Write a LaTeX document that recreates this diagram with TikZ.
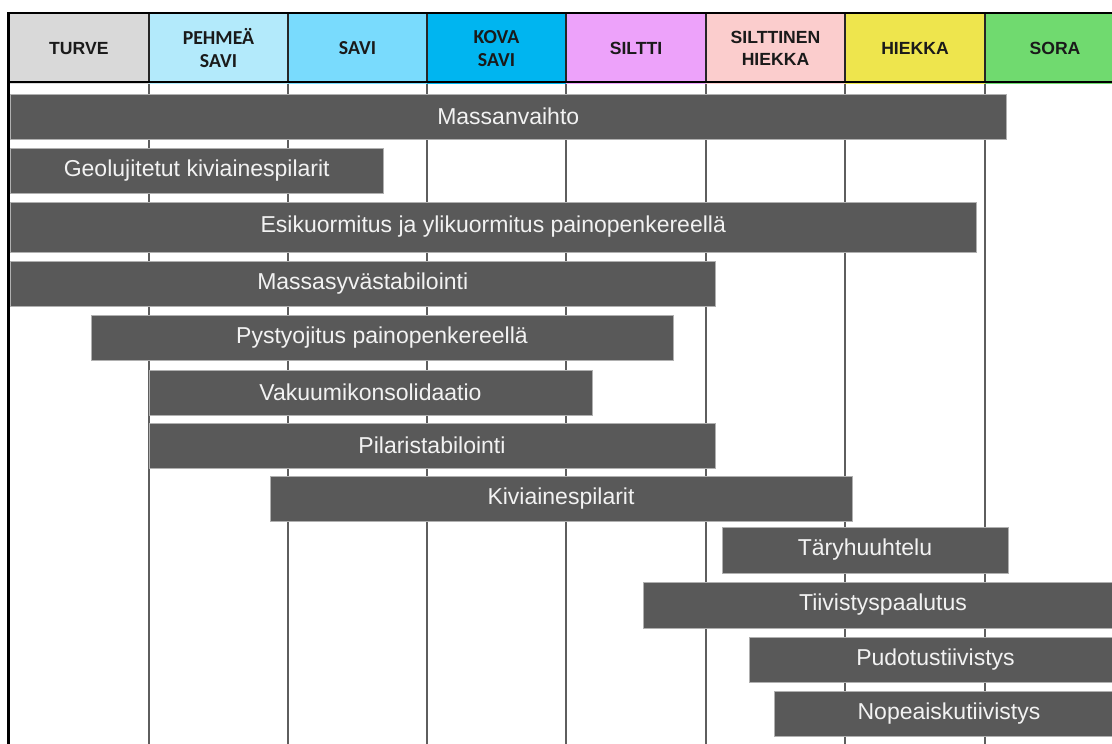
\documentclass[tikz,border=0pt]{standalone}
\usepackage{fontspec}
\setmainfont{Liberation Sans}
\newfontfamily\calfont{Carlito}
\newfontfamily\arifont{Liberation Sans}

\definecolor{cTurve}{HTML}{D9D9D9}
\definecolor{cPehmea}{HTML}{B3EAFB}
\definecolor{cSavi}{HTML}{79DBFD}
\definecolor{cKova}{HTML}{00B5F0}
\definecolor{cSiltti}{HTML}{EDA2FA}
\definecolor{cSilHk}{HTML}{FBCDCD}
\definecolor{cHiekka}{HTML}{EEE54D}
\definecolor{cSora}{HTML}{70DA6F}
\definecolor{barfill}{HTML}{595959}
\definecolor{barline}{HTML}{B0B0B0}
\definecolor{bartext}{HTML}{F2F2F2}
\definecolor{gridline}{HTML}{5E5E5E}
\definecolor{hdrtext}{HTML}{1A1A1A}

% soil-class header cell: #1 name, #2 left x, #3 right x, #4 colour, #5 font, #6 label
\newcommand\soilcell[6]{%
  \node[hdrcell, fill=#4, font=#5, minimum width={#3-#2}]
    (#1) at ({(#2+#3)/2},48.3) {#6};}
% method bar: #1 name, #2 x1, #3 y1, #4 x2, #5 y2, #6 label
\newcommand\methodbar[6]{%
  \node[methodbox, minimum width={#4-#2}, minimum height={#5-#3}]
    (#1) at ({(#2+#4)/2},{(#3+#5)/2}) {#6};}

\tikzset{
  hdrcell/.style={rectangle, inner sep=0pt, minimum height=71, align=center,
    text=hdrtext, draw=none},
  methodbox/.style={rectangle, inner sep=0pt, fill=barfill, draw=barline,
    line width=0.8pt, text=bartext,
    font=\arifont\fontsize{23}{26}\selectfont},
  colsep/.style={draw=black!85, line width=1.4pt},
  gridv/.style={draw=gridline, line width=1.3pt},
  frame/.style={draw=black, line width=2.6pt},
}

\begin{document}
\begin{tikzpicture}[x=1pt, y=-1pt]
\useasboundingbox (0,0) rectangle (1112,744);
\clip (0,0) rectangle (1112,744);
\fill[white] (0,0) rectangle (1112,744);

% vertical grid lines below the header
\foreach \gx in {149,288,427,566,706,845,985}
  \draw[gridv] (\gx,82) -- (\gx,744);

% header cells
\def\hA{\arifont\bfseries\fontsize{17.6}{21.5}\selectfont}
\def\hC{\calfont\bfseries\fontsize{19.8}{23}\selectfont}
\soilcell{turve}{8.7}{149}{cTurve}{\hA}{TURVE}
\soilcell{pehmea}{149}{288}{cPehmea}{\hC}{PEHMEÄ\\SAVI}
\soilcell{savi}{288}{427}{cSavi}{\hC}{SAVI}
\soilcell{kova}{427}{566}{cKova}{\hC}{KOVA\\SAVI}
\soilcell{siltti}{566}{706}{cSiltti}{\hA}{SILTTI}
\soilcell{silhk}{706}{845}{cSilHk}{\hA}{SILTTINEN\\HIEKKA}
\soilcell{hiekka}{845}{985}{cHiekka}{\hA}{HIEKKA}
\soilcell{sora}{985}{1125}{cSora}{\hA}{SORA}

% separators between header cells
\foreach \gx in {149,288,427,566,706,845,985}
  \draw[colsep] (\gx,12.8) -- (\gx,81.8);

% header frame and left edge line
\draw[frame] (1115,12.8) -- (8.7,12.8) -- (8.7,744);
\draw[frame] (8.7,81.8) -- (1115,81.8);

% method bars
\methodbar{massanvaihto}{10.5}{94}{1006}{139}{Massanvaihto}
\methodbar{geolujitetut}{10.5}{148}{383}{193}{Geolujitetut kiviainespilarit}
\methodbar{esikuormitus}{10.5}{202}{976}{252}{Esikuormitus ja ylikuormitus painopenkereellä}
\methodbar{massasyva}{10.5}{261}{715}{306}{Massasyvästabilointi}
\methodbar{pystyojitus}{91}{315}{673}{360}{Pystyojitus painopenkereellä}
\methodbar{vakuumi}{149}{370}{592}{415}{Vakuumikonsolidaatio}
\methodbar{pilari}{149}{423}{715}{468}{Pilaristabilointi}
\methodbar{kiviaines}{270}{476}{852}{521}{Kiviainespilarit}
\methodbar{tary}{722}{527}{1008}{573}{Täryhuuhtelu}
\methodbar{tiivistys}{643}{582}{1123}{628}{Tiivistyspaalutus}
\methodbar{pudotus}{749}{637}{1122}{682}{Pudotustiivistys}
\methodbar{nopeaisku}{774}{691}{1124}{736}{Nopeaiskutiivistys}
\end{tikzpicture}
\end{document}
